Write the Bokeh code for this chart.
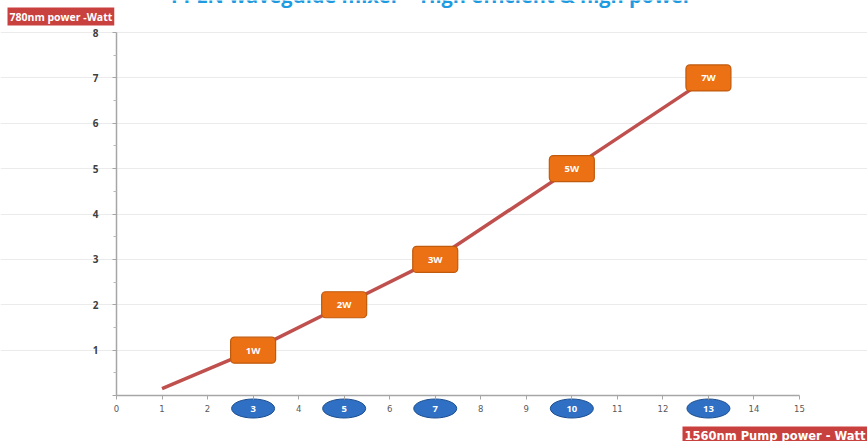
from bokeh.plotting import figure
from bokeh.models import Range1d, FixedTicker, Label
from bokeh.embed import file_html
from bokeh.resources import INLINE
from bokeh.core.properties import value

# ---- data ----
pump_w = [1, 3, 5, 7, 10, 13]          # 1560nm pump power (W)
out_w = [0.15, 1, 2, 3, 5, 7]          # 780nm output power (W)
mark_pump = [3, 5, 7, 10, 13]          # highlighted pump powers
mark_out = [1, 2, 3, 5, 7]             # corresponding output powers
mark_out_text = ["1W", "2W", "3W", "5W", "7W"]
mark_pump_text = ["3", "5", "7", "10", "13"]
x_ticks = list(range(0, 16))
y_ticks = list(range(0, 9))
title_text = "PPLN waveguide mixer \u2013 High efficient & high power"
y_label = "780nm power -Watt"
x_label = "1560nm Pump power - Watt"

FONT = "Open Sans"
W, H = 867, 441
# plot-area placement (pixels) in the reference
X0_PX, X15_PX, Y0_PX, Y8_PX = 116, 799, 395, 32
sx = (X15_PX - X0_PX) / 15.0
sy = (Y0_PX - Y8_PX) / 8.0


def dx(px):
    return (px - X0_PX) / sx


def dy(py):
    return (Y0_PX - py) / sy


p = figure(width=W, height=H, output_backend="svg", toolbar_location=None,
           x_range=Range1d(dx(0), dx(W)), y_range=Range1d(dy(H), dy(0)),
           min_border=0, min_border_left=0, min_border_right=0,
           min_border_top=0, min_border_bottom=0)
p.outline_line_color = None
p.background_fill_color = "white"
p.border_fill_color = "white"

# axes drawn inside the (full-canvas) frame
xa = p.xaxis[0]
xa.fixed_location = 0
xa.ticker = FixedTicker(ticks=x_ticks)
xa.bounds = (0, 15)
xa.major_label_overrides = {v: "" for v in mark_pump}
xa.axis_line_color = "#a6a6a6"
xa.axis_line_width = 1.5
xa.major_tick_line_color = "#a6a6a6"
xa.major_tick_in = 0
xa.major_tick_out = 4
xa.minor_tick_line_color = None
xa.major_label_text_font = "DejaVu Sans"
xa.major_label_text_font_size = "8.5px"
xa.major_label_text_color = "#595959"
xa.major_label_standoff = 5

ya = p.yaxis[0]
ya.fixed_location = 0
ya.ticker = FixedTicker(ticks=y_ticks, minor_ticks=[v + 0.5 for v in y_ticks[:-1]])
ya.bounds = (0, 8)
ya.major_label_overrides = {0: ""}
ya.axis_line_color = "#a6a6a6"
ya.axis_line_width = 1.5
ya.major_tick_line_color = "#a6a6a6"
ya.minor_tick_line_color = "#b8b8b8"
ya.major_tick_in = 0
ya.major_tick_out = 4
ya.minor_tick_in = 0
ya.minor_tick_out = 3
ya.major_label_text_font = FONT
ya.major_label_text_font_style = "bold"
ya.major_label_text_font_size = "10px"
ya.major_label_text_color = "#404040"
ya.major_label_standoff = 14

p.xgrid.visible = False
p.ygrid.ticker = FixedTicker(ticks=y_ticks[1:])
p.ygrid.bounds = (0, 15)
p.ygrid.grid_line_color = "#ebebeb"

# curve
p.line(pump_w, out_w, line_color="#c0504d", line_width=3.5)

# orange output markers
p.rect(mark_pump, mark_out, width=45, height=26, width_units="screen",
       height_units="screen", fill_color="#ec7014", line_color="#c05a0c",
       line_width=1.2, border_radius=4)
p.text(mark_pump, mark_out, text=mark_out_text, text_color="white",
       text_font=value(FONT), text_font_style="bold", text_font_size="9.5px",
       text_align="center", text_baseline="middle")

# blue pump markers on the x axis
pump_y = [dy(408)] * len(mark_pump)
p.ellipse(mark_pump, pump_y, width=43, height=19, width_units="screen",
          height_units="screen", fill_color="#2f6fc4", line_color="#1d4f90",
          line_width=1)
p.text(mark_pump, pump_y, text=mark_pump_text, text_color="white",
       text_font=value(FONT), text_font_style="bold", text_font_size="9.5px",
       text_align="center", text_baseline="middle")

# labels
p.add_layout(Label(x=dx(7), y=dy(25), text=y_label, text_color="white",
                   text_font=FONT, text_font_style="bold", text_font_size="10.5px",
                   background_fill_color="#c9413e", padding=2,
                   text_baseline="bottom", text_align="left"))
p.add_layout(Label(x=dx(682), y=dy(426), text=x_label, text_color="white",
                   text_font="DejaVu Sans", text_font_style="bold",
                   text_font_size="11.5px",
                   background_fill_color="#c9413e", padding=2,
                   text_baseline="top", text_align="left"))
p.add_layout(Label(x=dx(431), y=dy(-5), text=title_text, text_color="#1e9be0",
                   text_font=FONT, text_font_style="bold", text_font_size="20px",
                   text_baseline="alphabetic", text_align="center"))

open("out.html", "w").write(file_html(p, INLINE))
